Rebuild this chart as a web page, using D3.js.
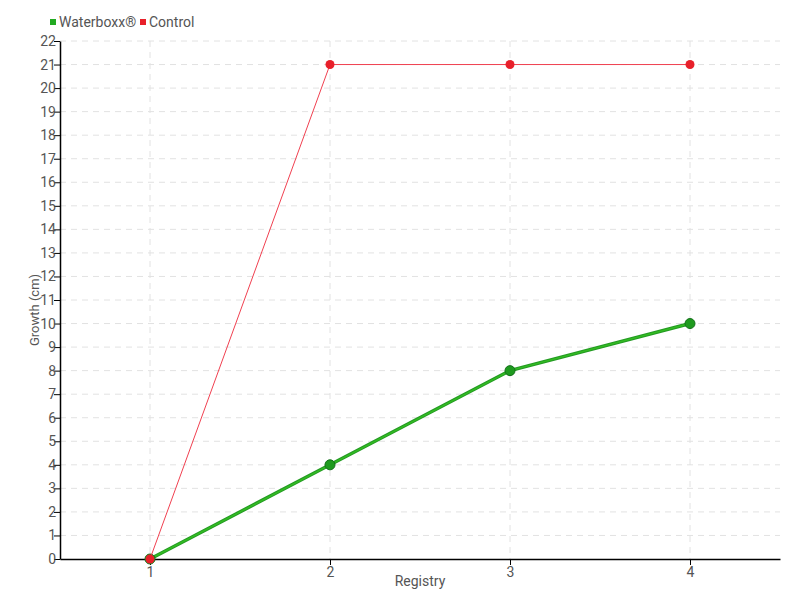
<html>
<script src="https://cdn.jsdelivr.net/npm/d3@7"></script>
<body style="margin:0">
<svg width="800" height="600"></svg>
<script>
var registry = [1, 2, 3, 4];
var waterboxx = [0, 4, 8, 10];
var control = [0, 21, 21, 21];
var yTicks = d3.range(0, 23);

var plotLeft = 60, plotRight = 780, plotTop = 41, plotBottom = 559;

var x = d3.scaleLinear().domain([0.5, 4.5]).range([plotLeft, plotRight]);
var y = d3.scaleLinear().domain([0, 22]).range([plotBottom, plotTop]);

var svg = d3.select("svg").style("font-family", "Roboto, sans-serif");

// grid
svg.append("g").selectAll("line").data(yTicks.slice(1)).enter().append("line")
    .attr("x1", plotLeft).attr("x2", plotRight)
    .attr("y1", function(d) { return y(d); }).attr("y2", function(d) { return y(d); })
    .style("stroke", "#e2e2e2").style("stroke-dasharray", "6,5");
svg.append("g").selectAll("line").data(registry).enter().append("line")
    .attr("x1", function(d) { return x(d); }).attr("x2", function(d) { return x(d); })
    .attr("y1", plotTop).attr("y2", plotBottom)
    .style("stroke", "#e2e2e2").style("stroke-dasharray", "6,5");

// axes
var xAxis = svg.append("g")
    .attr("transform", "translate(0," + plotBottom + ")")
    .call(d3.axisBottom(x).tickValues(registry).tickSize(6).tickSizeOuter(0).tickFormat(d3.format("d")));
var yAxis = svg.append("g")
    .attr("transform", "translate(" + plotLeft + ",0)")
    .call(d3.axisLeft(y).tickValues(yTicks).tickSize(6).tickSizeOuter(0).tickFormat(d3.format("d")));
[xAxis, yAxis].forEach(function(a) {
    a.attr("font-family", null).attr("font-size", null);
    a.select(".domain").style("stroke", "#000").style("stroke-width", 1.5);
    a.selectAll(".tick line").style("stroke", "#000");
    a.selectAll("text").style("fill", "#555").style("font-size", "14px");
});
yAxis.selectAll("text").attr("x", -4);
xAxis.selectAll("text").attr("y", 8);

var pts = function(vals) { return registry.map(function(r, i) { return [r, vals[i]]; }); };
var line = d3.line().x(function(d) { return x(d[0]); }).y(function(d) { return y(d[1]); });

// waterboxx
svg.append("path").datum(pts(waterboxx)).attr("d", line)
    .style("fill", "none").style("stroke", "#239a23").style("stroke-width", 3.5);
svg.append("path").datum(pts(waterboxx)).attr("d", line)
    .style("fill", "none").style("stroke", "#33bb22").style("stroke-width", 1.5);
svg.append("g").selectAll("circle").data(pts(waterboxx)).enter().append("circle")
    .attr("cx", function(d) { return x(d[0]); }).attr("cy", function(d) { return y(d[1]); })
    .attr("r", 5).style("fill", "#1e9a1e").style("stroke", "#13701a").style("stroke-width", 1);

// control
svg.append("path").datum(pts(control)).attr("d", line)
    .style("fill", "none").style("stroke", "#f04050").style("stroke-width", 1);
svg.append("g").selectAll("circle").data(pts(control)).enter().append("circle")
    .attr("cx", function(d) { return x(d[0]); }).attr("cy", function(d) { return y(d[1]); })
    .attr("r", 4.5).style("fill", "#e8202a");

// axis titles
svg.append("text").attr("x", (plotLeft + plotRight) / 2).attr("y", 586)
    .attr("text-anchor", "middle").style("font-size", "14px").style("fill", "#555").text("Registry");
svg.append("text").attr("transform", "translate(39,310) rotate(-90)")
    .attr("text-anchor", "middle").style("font-size", "13px").style("fill", "#555").text("Growth (cm)");

// legend
var legend = [["Waterboxx®", "#22aa22", 50], ["Control", "#e8202a", 140]];
legend.forEach(function(l) {
    svg.append("rect").attr("x", l[2]).attr("y", 19).attr("width", 6).attr("height", 6).style("fill", l[1]);
    svg.append("text").attr("x", l[2] + 9).attr("y", 27).style("font-size", "14px").style("fill", "#555").text(l[0]);
});
</script>
</body>
</html>
